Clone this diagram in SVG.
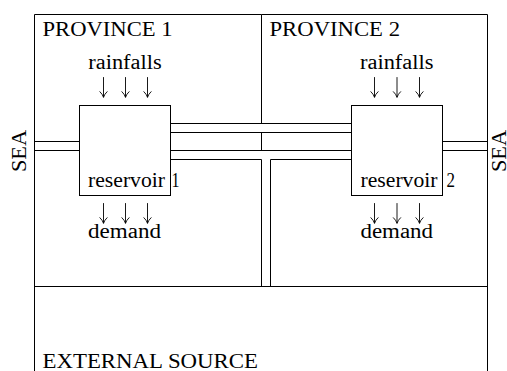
<svg xmlns="http://www.w3.org/2000/svg" width="507" height="371" viewBox="0 0 507 371">
<style>
  .ln { stroke: #000; stroke-width: 1; fill: none; }
  .box { stroke: #000; stroke-width: 1; fill: #fff; }
  .t { font-family: 'Liberation Serif', 'DejaVu Serif', serif; font-size: 20px; fill: #000; }
  .arr { stroke: #000; stroke-width: 0.9; fill: none; stroke-linecap: round; }
</style>
<defs>
  <g id="darrow">
    <path class="arr" d="M0,0 V19.5 M-3.6,14.2 Q-1,16.6 0,19.8 Q1,16.6 3.6,14.2"/>
  </g>
</defs>

<g id="province-1">
  <path class="ln" d="M34.5,14.5 H261.5 M34.5,14.5 V371"/>
  <text class="t" x="42.5" y="36" textLength="130" lengthAdjust="spacingAndGlyphs">PROVINCE 1</text>
</g>

<g id="province-2">
  <path class="ln" d="M261.5,14.5 H487.5 V371 M261.5,14.5 V123.5 M261.5,132.5 V150.5"/>
  <text class="t" x="269.5" y="36" textLength="130.5" lengthAdjust="spacingAndGlyphs">PROVINCE 2</text>
</g>

<g id="external-source">
  <path class="ln" d="M34.5,286.5 H487.5"/>
  <text class="t" x="42.5" y="368" textLength="215.5" lengthAdjust="spacingAndGlyphs">EXTERNAL SOURCE</text>
</g>

<g id="sea-left">
  <text class="t" transform="translate(26,151) rotate(-90)" text-anchor="middle" textLength="42" lengthAdjust="spacingAndGlyphs">SEA</text>
</g>

<g id="sea-right">
  <text class="t" transform="translate(506,151) rotate(-90)" text-anchor="middle" textLength="42" lengthAdjust="spacingAndGlyphs">SEA</text>
</g>

<g id="connectors">
  <path class="ln" d="M34.5,141.5 H79.5 M34.5,150.5 H79.5"/>
  <path class="ln" d="M442.5,141.5 H487.5 M442.5,150.5 H487.5"/>
  <path class="ln" d="M170.5,123.5 H351.5 M170.5,132.5 H351.5"/>
  <path class="ln" d="M170.5,150.5 H351.5 M170.5,159.5 H261.5 V286.5 M351.5,159.5 H270.5 V286.5"/>
</g>

<g id="reservoir-1">
  <rect class="box" x="79.5" y="105.5" width="91" height="90"/>
  <text class="t" x="88" y="187" textLength="77" lengthAdjust="spacingAndGlyphs">reservoir</text>
  <text class="t" x="171.5" y="187" textLength="8" lengthAdjust="spacingAndGlyphs">1</text>
  <text class="t" x="88.3" y="69" textLength="73.4" lengthAdjust="spacingAndGlyphs">rainfalls</text>
  <use href="#darrow" x="103.5" y="77.5"/>
  <use href="#darrow" x="125.5" y="77.5"/>
  <use href="#darrow" x="147.5" y="77.5"/>
  <use href="#darrow" x="103.5" y="203.5"/>
  <use href="#darrow" x="125.5" y="203.5"/>
  <use href="#darrow" x="147.5" y="203.5"/>
  <text class="t" x="88" y="238" textLength="73" lengthAdjust="spacingAndGlyphs">demand</text>
</g>

<g id="reservoir-2">
  <rect class="box" x="351.5" y="105.5" width="91" height="90"/>
  <text class="t" x="360.5" y="187" textLength="77" lengthAdjust="spacingAndGlyphs">reservoir</text>
  <text class="t" x="446.5" y="187" textLength="8.5" lengthAdjust="spacingAndGlyphs">2</text>
  <text class="t" x="360" y="69" textLength="73.4" lengthAdjust="spacingAndGlyphs">rainfalls</text>
  <use href="#darrow" x="374.5" y="77.5"/>
  <use href="#darrow" x="397" y="77.5"/>
  <use href="#darrow" x="419.5" y="77.5"/>
  <use href="#darrow" x="374.5" y="203.5"/>
  <use href="#darrow" x="397" y="203.5"/>
  <use href="#darrow" x="419.5" y="203.5"/>
  <text class="t" x="360.5" y="238" textLength="72.5" lengthAdjust="spacingAndGlyphs">demand</text>
</g>
</svg>
